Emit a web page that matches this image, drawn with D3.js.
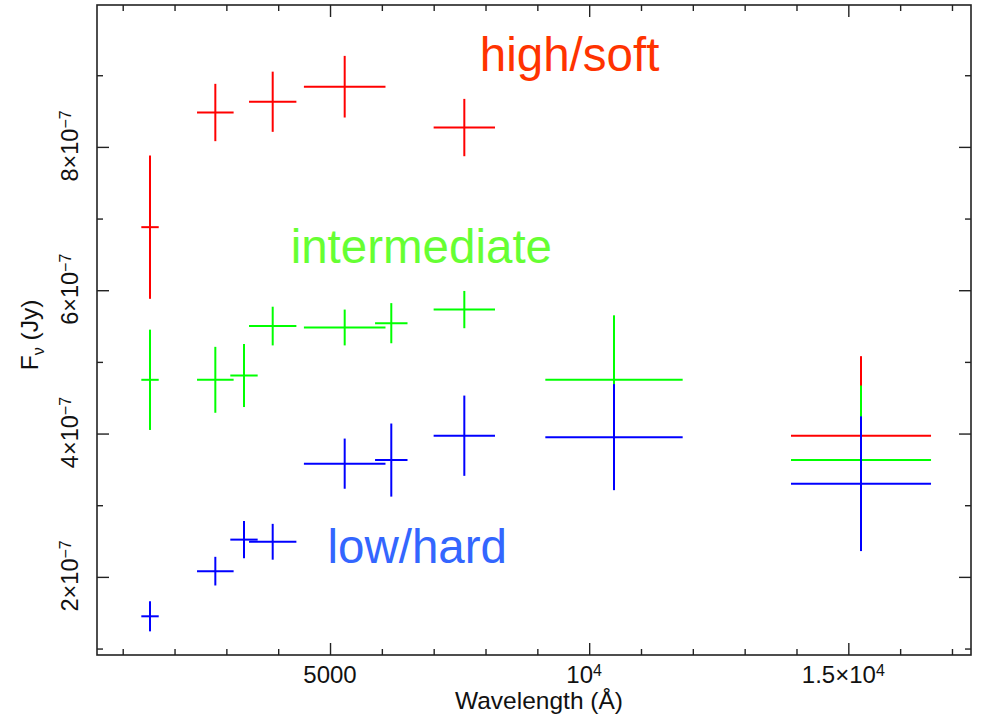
<!DOCTYPE html>
<html>
<head>
<meta charset="utf-8">
<script src="https://cdn.jsdelivr.net/npm/d3@7"></script>
<style>
body { margin: 0; background: #fff; }
svg { display: block; font-family: "Liberation Sans", Arial, sans-serif; }
.axis path { display: none; }
.axis line { stroke: #222; stroke-width: 1.4px; }
.bar { stroke-width: 2px; }
</style>
</head>
<body>
<svg id="sed" width="981" height="718"></svg>
<script>
// filter wavelengths (Angstrom) and half band widths
var wave     = [1527, 2787, 3340, 3894, 5283, 6182, 7591, 10479, 15245];
var waveHalf = [168, 353, 264, 457, 787, 313, 592, 1325, 1351];

// flux density in units of 1e-7 Jy, null where the state has no point
var softFlux = [6.88, 8.48, null, 8.63, 8.84, null, 8.27, null, 3.97];
var softErr  = [1.00, 0.40, null, 0.42, 0.43, null, 0.40, null, 1.11];
var midFlux  = [4.75, 4.75, 4.81, 5.50, 5.48, 5.54, 5.73, 4.75, 3.63];
var midErr   = [0.70, 0.46, 0.44, 0.27, 0.25, 0.28, 0.26, 0.90, 1.04];
var hardFlux = [1.45, 2.08, 2.52, 2.49, 3.58, 3.63, 3.97, 3.95, 3.30];
var hardErr  = [0.21, 0.20, 0.26, 0.25, 0.35, 0.51, 0.56, 0.74, 0.94];

// ticks
var xMajor = [5000, 10000, 15000];
var xMinor = [1000, 2000, 3000, 4000, 6000, 7000, 8000, 9000, 11000, 12000, 13000, 14000, 16000, 17000];
var xTickText = [["5000", ""], ["10", "4"], ["1.5\u00d710", "4"]];
var yMajor = [2, 4, 6, 8];
var yMinor = [1, 3, 5, 7, 9];
var yTickText = [["2\u00d710", "\u22127"], ["4\u00d710", "\u22127"], ["6\u00d710", "\u22127"], ["8\u00d710", "\u22127"]];

var svg = d3.select("#sed"),
    margin = {top: 5, right: 10, bottom: 63, left: 97},
    width = +svg.attr("width") - margin.left - margin.right,
    height = +svg.attr("height") - margin.top - margin.bottom,
    g = svg.append("g").attr("transform", "translate(" + margin.left + "," + margin.top + ")");

var x = d3.scaleLinear().domain([504, 17367]).range([0, width]);
var y = d3.scaleLinear().domain([0.91, 9.98]).range([height, 0]);

// ticks point inwards on all four sides
function ticks(axis, shift, values, size) {
  g.append("g")
      .attr("class", "axis")
      .attr("transform", shift)
      .call(axis.tickValues(values).tickSize(-size).tickFormat(""));
}
ticks(d3.axisBottom(x), "translate(0," + height + ")", xMajor, 12);
ticks(d3.axisBottom(x), "translate(0," + height + ")", xMinor, 6);
ticks(d3.axisTop(x), "translate(0,0)", xMajor, 12);
ticks(d3.axisTop(x), "translate(0,0)", xMinor, 6);
ticks(d3.axisLeft(y), "translate(0,0)", yMajor, 12);
ticks(d3.axisLeft(y), "translate(0,0)", yMinor, 6);
ticks(d3.axisRight(y), "translate(" + width + ",0)", yMajor, 12);
ticks(d3.axisRight(y), "translate(" + width + ",0)", yMinor, 6);

g.append("rect")
    .attr("width", width)
    .attr("height", height)
    .attr("fill", "none")
    .attr("stroke", "#222")
    .attr("stroke-width", 1.6);

// tick labels with superscripts
var xl = g.append("g").selectAll("text")
  .data(xMajor)
  .enter().append("text")
    .attr("x", function(d, i) { return x(d) - (xTickText[i][1] ? 5 : 0); })
    .attr("y", height + 28)
    .attr("text-anchor", "middle")
    .attr("font-size", 24)
    .attr("fill", "#111");
xl.append("tspan").text(function(d, i) { return xTickText[i][0]; });
xl.append("tspan").attr("dy", "-0.45em").attr("font-size", 16).text(function(d, i) { return xTickText[i][1]; });

var yl = g.append("g").selectAll("text")
  .data(yMajor)
  .enter().append("text")
    .attr("transform", function(d) { return "translate(-19," + (y(d) - 1) + ") rotate(-90)"; })
    .attr("text-anchor", "middle")
    .attr("font-size", 23.5)
    .attr("fill", "#111");
yl.append("tspan").text(function(d, i) { return yTickText[i][0]; });
yl.append("tspan").attr("dy", "-0.45em").attr("font-size", 16).text(function(d, i) { return yTickText[i][1]; });

// axis titles
g.append("text")
    .attr("x", width / 2 + 5)
    .attr("y", height + 54)
    .attr("text-anchor", "middle")
    .attr("font-size", 24.5)
    .attr("fill", "#111")
    .text("Wavelength (\u00c5)");

var yt = g.append("text")
    .attr("transform", "translate(-59," + (height / 2 + 5) + ") rotate(-90)")
    .attr("text-anchor", "middle")
    .attr("font-size", 24.5)
    .attr("fill", "#111");
yt.append("tspan").text("F");
yt.append("tspan").attr("dy", "0.4em").attr("font-size", 16).text("\u03bd");
yt.append("tspan").attr("dy", "-0.25em").text(" (Jy)");

// error crosses, red first so blue ends up on top
function crosses(flux, err, colour) {
  var pts = wave.map(function(w, i) {
    return {w: w, hw: waveHalf[i], f: flux[i], e: err[i]};
  }).filter(function(d) { return d.f != null; });

  var s = g.append("g").attr("stroke", colour).attr("class", "bar");
  s.selectAll(".h")
    .data(pts)
    .enter().append("line")
      .attr("x1", function(d) { return x(d.w - d.hw); })
      .attr("x2", function(d) { return x(d.w + d.hw); })
      .attr("y1", function(d) { return y(d.f); })
      .attr("y2", function(d) { return y(d.f); });
  s.selectAll(".v")
    .data(pts)
    .enter().append("line")
      .attr("x1", function(d) { return x(d.w); })
      .attr("x2", function(d) { return x(d.w); })
      .attr("y1", function(d) { return y(d.f - d.e); })
      .attr("y2", function(d) { return y(d.f + d.e); });
}
crosses(softFlux, softErr, "#ff0000");
crosses(midFlux, midErr, "#00ff00");
crosses(hardFlux, hardErr, "#0000ff");

// state names
function note(txt, w, f, colour) {
  g.append("text")
      .attr("x", x(w))
      .attr("y", y(f))
      .attr("font-size", 47.5)
      .attr("fill", colour)
      .text(txt);
}
note("high/soft", 7890, 9.06, "#ff3300");
note("intermediate", 4240, 6.38, "#66ff33");
note("low/hard", 4950, 2.20, "#3366ff");
</script>
</body>
</html>
